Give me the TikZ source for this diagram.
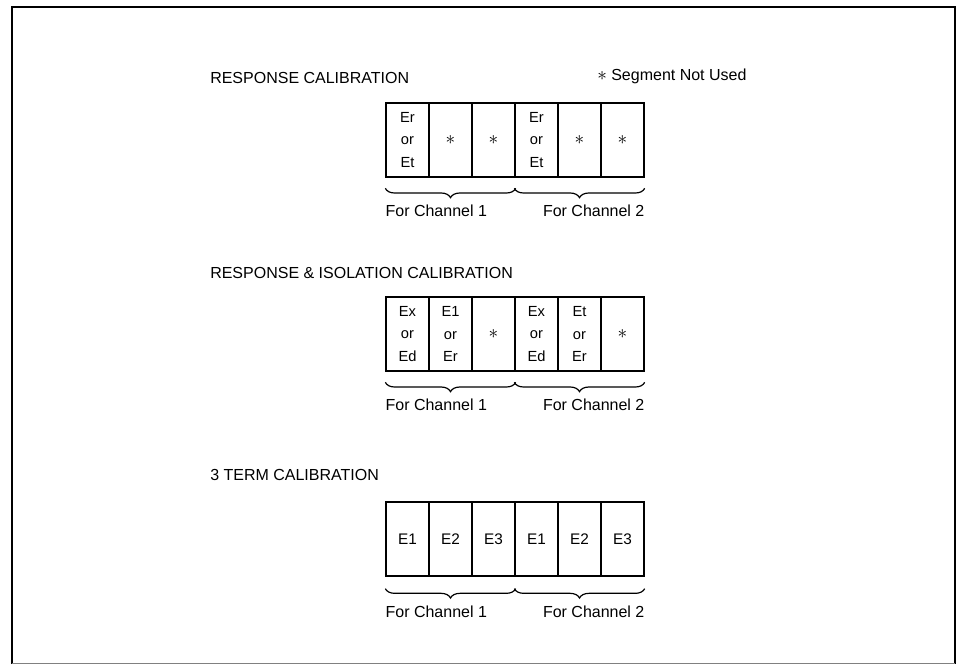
\documentclass[tikz,border=0pt]{standalone}
\usepackage{fontspec}
\setmainfont{Liberation Sans}
\usetikzlibrary{decorations.pathreplacing}
\newcommand{\nouse}{{\Large$\ast$}}

\begin{document}
\begin{tikzpicture}[x=0.75pt, y=-0.75pt,
    cell/.style={rectangle, draw, line width=1pt, minimum width=32.25pt,
                 minimum height=55.5pt, inner sep=0pt, align=center,
                 font=\fontsize{11}{17}\selectfont},
    ttl/.style={anchor=west, inner sep=0pt, font=\fontsize{12}{14}\selectfont},
    lbl/.style={inner sep=0pt, font=\fontsize{12}{14}\selectfont},
    brc/.style={decorate, decoration={brace, mirror, amplitude=7pt}, line width=0.9pt},
  ]
  \useasboundingbox (0,0) rectangle (960,665);

  % Frame (open at the bottom edge of the scan)
  \draw[line width=1.6pt] (12,664) |- (955,7) -- (955,664);
  \draw[gray, line width=0.4pt] (12,663) -- (955,663);

  % Response calibration
  \node[ttl] (t1) at (210,78) {RESPONSE CALIBRATION};
  \node[lbl, anchor=west] (note) at (597,76) {\nouse\ Segment Not Used};
  \foreach \t [count=\i] in {{Er\\or\\Et}, \nouse, \nouse, {Er\\or\\Et}, \nouse, \nouse}
    \node[cell] (a\i) at ({364.5+43*\i}, 140) {\t};
  \draw[brc] ([yshift=-8pt]a1.south west) -- ([yshift=-8pt]a3.south east);
  \draw[brc] ([yshift=-8pt]a4.south west) -- ([yshift=-8pt]a6.south east);
  \node[lbl, anchor=north west] (a-ch1) at ([yshift=-20pt]a1.south west) {For Channel 1};
  \node[lbl, anchor=north east] (a-ch2) at ([yshift=-20pt]a6.south east) {For Channel 2};

  % Response & isolation calibration
  \node[ttl] (t2) at (210,273) {RESPONSE \& ISOLATION CALIBRATION};
  \foreach \t [count=\i] in {{Ex\\or\\Ed}, {E1\\or\\Er}, \nouse, {Ex\\or\\Ed}, {Et\\or\\Er}, \nouse}
    \node[cell] (b\i) at ({364.5+43*\i}, 334) {\t};
  \draw[brc] ([yshift=-8pt]b1.south west) -- ([yshift=-8pt]b3.south east);
  \draw[brc] ([yshift=-8pt]b4.south west) -- ([yshift=-8pt]b6.south east);
  \node[lbl, anchor=north west] (b-ch1) at ([yshift=-20pt]b1.south west) {For Channel 1};
  \node[lbl, anchor=north east] (b-ch2) at ([yshift=-20pt]b6.south east) {For Channel 2};

  % 3 term calibration
  \node[ttl] (t3) at (210,475) {3 TERM CALIBRATION};
  \foreach \t [count=\i] in {E1, E2, E3, E1, E2, E3}
    \node[cell, font=\fontsize{11.5}{13}\selectfont] (c\i) at ({364.5+43*\i}, 539) {\t};
  \draw[brc] ([yshift=-9pt]c1.south west) -- ([yshift=-9pt]c3.south east);
  \draw[brc] ([yshift=-9pt]c4.south west) -- ([yshift=-9pt]c6.south east);
  \node[lbl, anchor=north west] (c-ch1) at ([yshift=-22pt]c1.south west) {For Channel 1};
  \node[lbl, anchor=north east] (c-ch2) at ([yshift=-22pt]c6.south east) {For Channel 2};
\end{tikzpicture}
\end{document}
